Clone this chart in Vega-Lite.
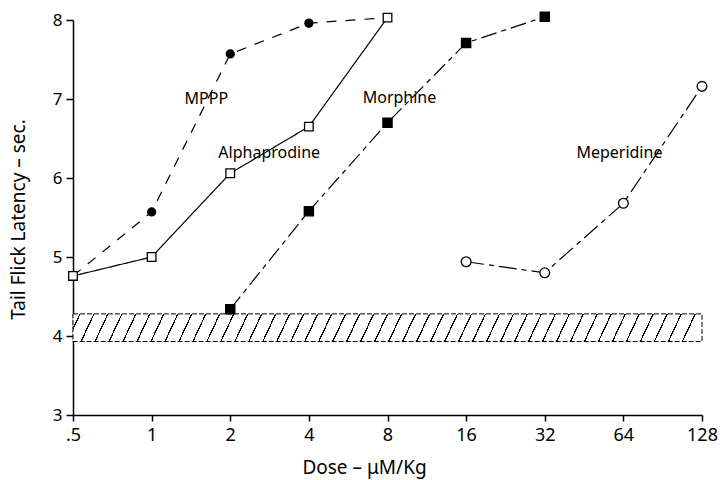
{
  "$schema": "https://vega.github.io/schema/vega-lite/v6.json",
  "autosize": {"type": "none"},
  "padding": {"left": 73, "top": 20, "right": 18, "bottom": 65},
  "width": 629,
  "height": 395,
  "background": "white",
  "config": {
    "view": {"stroke": null},
    "font": "Noto Sans",
    "axis": {"grid": false, "domainColor": "black", "tickColor": "black", "labelColor": "black", "titleColor": "black", "domainWidth": 1.5, "tickWidth": 1.5, "labelFont": "Noto Sans", "titleFont": "Noto Sans", "titleFontWeight": "normal"}
  },
  "datasets": {
    "curves": [
      {"drug": "MPPP", "dose": 0.5, "latency": 4.76},
      {"drug": "MPPP", "dose": 1, "latency": 5.57},
      {"drug": "MPPP", "dose": 2, "latency": 7.57},
      {"drug": "MPPP", "dose": 4, "latency": 7.96},
      {"drug": "MPPP", "dose": 8, "latency": 8.03},
      {"drug": "Alphaprodine", "dose": 0.5, "latency": 4.76},
      {"drug": "Alphaprodine", "dose": 1, "latency": 5.0},
      {"drug": "Alphaprodine", "dose": 2, "latency": 6.06},
      {"drug": "Alphaprodine", "dose": 4, "latency": 6.65},
      {"drug": "Alphaprodine", "dose": 8, "latency": 8.03},
      {"drug": "Morphine", "dose": 2, "latency": 4.34},
      {"drug": "Morphine", "dose": 4, "latency": 5.58},
      {"drug": "Morphine", "dose": 8, "latency": 6.7},
      {"drug": "Morphine", "dose": 16, "latency": 7.71},
      {"drug": "Morphine", "dose": 32, "latency": 8.04},
      {"drug": "Meperidine", "dose": 16, "latency": 4.94},
      {"drug": "Meperidine", "dose": 32, "latency": 4.8},
      {"drug": "Meperidine", "dose": 64, "latency": 5.68},
      {"drug": "Meperidine", "dose": 128, "latency": 7.16}
    ],
    "band": [{"x0": 0.5, "x1": 128, "lo": 3.93, "hi": 4.28}],
    "labels": [
      {"text": "MPPP", "dose": 1.62, "latency": 7.0},
      {"text": "Alphaprodine", "dose": 2.82, "latency": 6.32},
      {"text": "Morphine", "dose": 8.89, "latency": 7.01},
      {"text": "Meperidine", "dose": 61.8, "latency": 6.32}
    ]
  },
  "layer": [
    {
      "data": {"name": "band"},
      "mark": {
        "type": "rect",
        "stroke": "black",
        "strokeWidth": 1,
        "strokeDash": [5, 2],
        "fill": {
          "gradient": "linear",
          "x1": 0, "y1": 0, "x2": 1, "y2": 0.0206,
          "stops": [
            {"offset": 0, "color": "#ffffff"},
            {"offset": 0.0100, "color": "#ffffff"}, {"offset": 0.0100, "color": "#000000"}, {"offset": 0.0122, "color": "#000000"}, {"offset": 0.0122, "color": "#ffffff"},
            {"offset": 0.0322, "color": "#ffffff"}, {"offset": 0.0322, "color": "#000000"}, {"offset": 0.0344, "color": "#000000"}, {"offset": 0.0344, "color": "#ffffff"},
            {"offset": 0.0544, "color": "#ffffff"}, {"offset": 0.0544, "color": "#000000"}, {"offset": 0.0566, "color": "#000000"}, {"offset": 0.0566, "color": "#ffffff"},
            {"offset": 0.0767, "color": "#ffffff"}, {"offset": 0.0767, "color": "#000000"}, {"offset": 0.0789, "color": "#000000"}, {"offset": 0.0789, "color": "#ffffff"},
            {"offset": 0.0989, "color": "#ffffff"}, {"offset": 0.0989, "color": "#000000"}, {"offset": 0.1011, "color": "#000000"}, {"offset": 0.1011, "color": "#ffffff"},
            {"offset": 0.1211, "color": "#ffffff"}, {"offset": 0.1211, "color": "#000000"}, {"offset": 0.1233, "color": "#000000"}, {"offset": 0.1233, "color": "#ffffff"},
            {"offset": 0.1433, "color": "#ffffff"}, {"offset": 0.1433, "color": "#000000"}, {"offset": 0.1455, "color": "#000000"}, {"offset": 0.1455, "color": "#ffffff"},
            {"offset": 0.1656, "color": "#ffffff"}, {"offset": 0.1656, "color": "#000000"}, {"offset": 0.1678, "color": "#000000"}, {"offset": 0.1678, "color": "#ffffff"},
            {"offset": 0.1878, "color": "#ffffff"}, {"offset": 0.1878, "color": "#000000"}, {"offset": 0.1900, "color": "#000000"}, {"offset": 0.1900, "color": "#ffffff"},
            {"offset": 0.2100, "color": "#ffffff"}, {"offset": 0.2100, "color": "#000000"}, {"offset": 0.2122, "color": "#000000"}, {"offset": 0.2122, "color": "#ffffff"},
            {"offset": 0.2322, "color": "#ffffff"}, {"offset": 0.2322, "color": "#000000"}, {"offset": 0.2344, "color": "#000000"}, {"offset": 0.2344, "color": "#ffffff"},
            {"offset": 0.2544, "color": "#ffffff"}, {"offset": 0.2544, "color": "#000000"}, {"offset": 0.2566, "color": "#000000"}, {"offset": 0.2566, "color": "#ffffff"},
            {"offset": 0.2767, "color": "#ffffff"}, {"offset": 0.2767, "color": "#000000"}, {"offset": 0.2789, "color": "#000000"}, {"offset": 0.2789, "color": "#ffffff"},
            {"offset": 0.2989, "color": "#ffffff"}, {"offset": 0.2989, "color": "#000000"}, {"offset": 0.3011, "color": "#000000"}, {"offset": 0.3011, "color": "#ffffff"},
            {"offset": 0.3211, "color": "#ffffff"}, {"offset": 0.3211, "color": "#000000"}, {"offset": 0.3233, "color": "#000000"}, {"offset": 0.3233, "color": "#ffffff"},
            {"offset": 0.3433, "color": "#ffffff"}, {"offset": 0.3433, "color": "#000000"}, {"offset": 0.3455, "color": "#000000"}, {"offset": 0.3455, "color": "#ffffff"},
            {"offset": 0.3656, "color": "#ffffff"}, {"offset": 0.3656, "color": "#000000"}, {"offset": 0.3678, "color": "#000000"}, {"offset": 0.3678, "color": "#ffffff"},
            {"offset": 0.3878, "color": "#ffffff"}, {"offset": 0.3878, "color": "#000000"}, {"offset": 0.3900, "color": "#000000"}, {"offset": 0.3900, "color": "#ffffff"},
            {"offset": 0.4100, "color": "#ffffff"}, {"offset": 0.4100, "color": "#000000"}, {"offset": 0.4122, "color": "#000000"}, {"offset": 0.4122, "color": "#ffffff"},
            {"offset": 0.4322, "color": "#ffffff"}, {"offset": 0.4322, "color": "#000000"}, {"offset": 0.4344, "color": "#000000"}, {"offset": 0.4344, "color": "#ffffff"},
            {"offset": 0.4544, "color": "#ffffff"}, {"offset": 0.4544, "color": "#000000"}, {"offset": 0.4566, "color": "#000000"}, {"offset": 0.4566, "color": "#ffffff"},
            {"offset": 0.4767, "color": "#ffffff"}, {"offset": 0.4767, "color": "#000000"}, {"offset": 0.4789, "color": "#000000"}, {"offset": 0.4789, "color": "#ffffff"},
            {"offset": 0.4989, "color": "#ffffff"}, {"offset": 0.4989, "color": "#000000"}, {"offset": 0.5011, "color": "#000000"}, {"offset": 0.5011, "color": "#ffffff"},
            {"offset": 0.5211, "color": "#ffffff"}, {"offset": 0.5211, "color": "#000000"}, {"offset": 0.5233, "color": "#000000"}, {"offset": 0.5233, "color": "#ffffff"},
            {"offset": 0.5433, "color": "#ffffff"}, {"offset": 0.5433, "color": "#000000"}, {"offset": 0.5455, "color": "#000000"}, {"offset": 0.5455, "color": "#ffffff"},
            {"offset": 0.5656, "color": "#ffffff"}, {"offset": 0.5656, "color": "#000000"}, {"offset": 0.5678, "color": "#000000"}, {"offset": 0.5678, "color": "#ffffff"},
            {"offset": 0.5878, "color": "#ffffff"}, {"offset": 0.5878, "color": "#000000"}, {"offset": 0.5900, "color": "#000000"}, {"offset": 0.5900, "color": "#ffffff"},
            {"offset": 0.6100, "color": "#ffffff"}, {"offset": 0.6100, "color": "#000000"}, {"offset": 0.6122, "color": "#000000"}, {"offset": 0.6122, "color": "#ffffff"},
            {"offset": 0.6322, "color": "#ffffff"}, {"offset": 0.6322, "color": "#000000"}, {"offset": 0.6344, "color": "#000000"}, {"offset": 0.6344, "color": "#ffffff"},
            {"offset": 0.6544, "color": "#ffffff"}, {"offset": 0.6544, "color": "#000000"}, {"offset": 0.6566, "color": "#000000"}, {"offset": 0.6566, "color": "#ffffff"},
            {"offset": 0.6767, "color": "#ffffff"}, {"offset": 0.6767, "color": "#000000"}, {"offset": 0.6789, "color": "#000000"}, {"offset": 0.6789, "color": "#ffffff"},
            {"offset": 0.6989, "color": "#ffffff"}, {"offset": 0.6989, "color": "#000000"}, {"offset": 0.7011, "color": "#000000"}, {"offset": 0.7011, "color": "#ffffff"},
            {"offset": 0.7211, "color": "#ffffff"}, {"offset": 0.7211, "color": "#000000"}, {"offset": 0.7233, "color": "#000000"}, {"offset": 0.7233, "color": "#ffffff"},
            {"offset": 0.7433, "color": "#ffffff"}, {"offset": 0.7433, "color": "#000000"}, {"offset": 0.7455, "color": "#000000"}, {"offset": 0.7455, "color": "#ffffff"},
            {"offset": 0.7656, "color": "#ffffff"}, {"offset": 0.7656, "color": "#000000"}, {"offset": 0.7678, "color": "#000000"}, {"offset": 0.7678, "color": "#ffffff"},
            {"offset": 0.7878, "color": "#ffffff"}, {"offset": 0.7878, "color": "#000000"}, {"offset": 0.7900, "color": "#000000"}, {"offset": 0.7900, "color": "#ffffff"},
            {"offset": 0.8100, "color": "#ffffff"}, {"offset": 0.8100, "color": "#000000"}, {"offset": 0.8122, "color": "#000000"}, {"offset": 0.8122, "color": "#ffffff"},
            {"offset": 0.8322, "color": "#ffffff"}, {"offset": 0.8322, "color": "#000000"}, {"offset": 0.8344, "color": "#000000"}, {"offset": 0.8344, "color": "#ffffff"},
            {"offset": 0.8544, "color": "#ffffff"}, {"offset": 0.8544, "color": "#000000"}, {"offset": 0.8566, "color": "#000000"}, {"offset": 0.8566, "color": "#ffffff"},
            {"offset": 0.8767, "color": "#ffffff"}, {"offset": 0.8767, "color": "#000000"}, {"offset": 0.8789, "color": "#000000"}, {"offset": 0.8789, "color": "#ffffff"},
            {"offset": 0.8989, "color": "#ffffff"}, {"offset": 0.8989, "color": "#000000"}, {"offset": 0.9011, "color": "#000000"}, {"offset": 0.9011, "color": "#ffffff"},
            {"offset": 0.9211, "color": "#ffffff"}, {"offset": 0.9211, "color": "#000000"}, {"offset": 0.9233, "color": "#000000"}, {"offset": 0.9233, "color": "#ffffff"},
            {"offset": 0.9433, "color": "#ffffff"}, {"offset": 0.9433, "color": "#000000"}, {"offset": 0.9455, "color": "#000000"}, {"offset": 0.9455, "color": "#ffffff"},
            {"offset": 0.9656, "color": "#ffffff"}, {"offset": 0.9656, "color": "#000000"}, {"offset": 0.9678, "color": "#000000"}, {"offset": 0.9678, "color": "#ffffff"},
            {"offset": 0.9878, "color": "#ffffff"}, {"offset": 0.9878, "color": "#000000"}, {"offset": 0.9900, "color": "#000000"}, {"offset": 0.9900, "color": "#ffffff"},
            {"offset": 1, "color": "#ffffff"}
          ]
        }
      },
      "encoding": {
        "x": {
          "field": "x0", "type": "quantitative",
          "scale": {"type": "log", "base": 2, "domain": [0.5, 128], "nice": false},
          "axis": {
            "values": [0.5, 1, 2, 4, 8, 16, 32, 64, 128],
            "labelExpr": "datum.value == 0.5 ? '.5' : format(datum.value, 'd')",
            "labelFontSize": 18, "labelFlush": false, "labelPadding": 5, "tickSize": 6,
            "title": "Dose – μM/Kg", "titleFontSize": 19, "titleX": 291, "titleY": 58, "titleBaseline": "alphabetic", "titleAlign": "center"
          }
        },
        "x2": {"field": "x1"},
        "y": {
          "field": "lo", "type": "quantitative",
          "scale": {"domain": [3, 8], "nice": false, "zero": false},
          "axis": {
            "values": [3, 4, 5, 6, 7, 8],
            "format": "d",
            "labelFontSize": 17, "labelPadding": 4, "tickSize": 7,
            "title": "Tail Flick Latency – sec.", "titleFontSize": 19, "titleX": -55, "titleY": 199, "titleAngle": -90, "titleBaseline": "middle", "titleAlign": "center"
          }
        },
        "y2": {"field": "hi"}
      }
    },
    {
      "data": {"name": "curves"},
      "mark": {"type": "line", "color": "black", "strokeWidth": 1.2},
      "encoding": {
        "x": {"field": "dose", "type": "quantitative"},
        "y": {"field": "latency", "type": "quantitative"},
        "detail": {"field": "drug", "type": "nominal"},
        "strokeDash": {
          "field": "drug", "type": "nominal",
          "scale": {"domain": ["MPPP", "Alphaprodine", "Morphine", "Meperidine"], "range": [[10, 9], [1, 0], [16, 5, 5, 5], [18, 5, 5, 5]]},
          "legend": null
        }
      }
    },
    {
      "data": {"name": "curves"},
      "transform": [{"filter": "!(datum.drug === 'MPPP' && (datum.dose === 0.5 || datum.dose === 8))"}],
      "mark": {"type": "point", "filled": true, "stroke": "black", "strokeWidth": 1.3, "opacity": 1},
      "encoding": {
        "x": {"field": "dose", "type": "quantitative"},
        "y": {"field": "latency", "type": "quantitative"},
        "shape": {
          "field": "drug", "type": "nominal",
          "scale": {"domain": ["MPPP", "Alphaprodine", "Morphine", "Meperidine"], "range": ["circle", "square", "square", "circle"]},
          "legend": null
        },
        "fill": {
          "field": "drug", "type": "nominal",
          "scale": {"domain": ["MPPP", "Alphaprodine", "Morphine", "Meperidine"], "range": ["black", "white", "black", "white"]},
          "legend": null
        },
        "size": {
          "field": "drug", "type": "nominal",
          "scale": {"domain": ["MPPP", "Alphaprodine", "Morphine", "Meperidine"], "range": [64, 95, 95, 64]},
          "legend": null
        }
      }
    },
    {
      "data": {"name": "labels"},
      "mark": {"type": "text", "fontSize": 16, "color": "black", "align": "center", "baseline": "middle", "font": "Noto Sans"},
      "encoding": {
        "x": {"field": "dose", "type": "quantitative"},
        "y": {"field": "latency", "type": "quantitative"},
        "text": {"field": "text"}
      }
    }
  ]
}
